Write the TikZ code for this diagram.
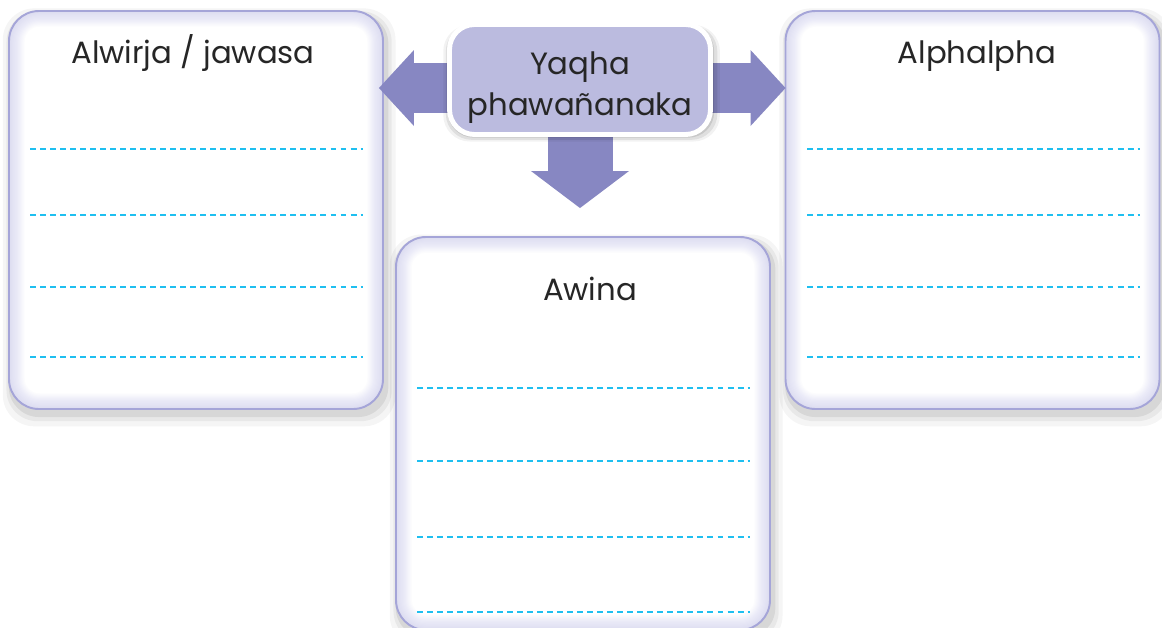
\documentclass[tikz,border=0pt]{standalone}
\usepackage{fontspec}
\setmainfont{Poppins}
\usetikzlibrary{positioning,calc,shadows,arrows.meta}
\pgfdeclarelayer{panels}
\pgfdeclarelayer{flows}
\pgfsetlayers{panels,flows,main}
\definecolor{panelline}{HTML}{A5A5D8}
\definecolor{panelglow}{HTML}{B4B4E2}
\definecolor{hubfill}{HTML}{BBBBDF}
\definecolor{flowfill}{HTML}{8787C2}
\definecolor{writeline}{HTML}{1FBFF0}
\tikzset{
  softshadow/.style={
    general shadow={fill=black, opacity=0.04, shadow xshift=0.6mm, shadow yshift=-1.4mm, shadow scale=1.05},
    general shadow={fill=black, opacity=0.05, shadow xshift=0.6mm, shadow yshift=-1.2mm, shadow scale=1.03},
    general shadow={fill=black, opacity=0.07, shadow xshift=0.5mm, shadow yshift=-1.0mm, shadow scale=1.015}},
  panel/.style={draw=panelline, line width=1.1pt, fill=white, rounded corners=6mm,
    minimum width=74.8mm, minimum height=79.6mm, inner sep=0pt, softshadow,
    path picture={
      \foreach \i in {1,...,14}
        \draw[panelglow, line width=\i*0.45mm, opacity=0.035, rounded corners=6mm]
          (path picture bounding box.south west) rectangle (path picture bounding box.north east);
    }},
  title/.style={anchor=base, inner sep=0pt, text=black!85, font=\fontsize{17.5}{21}\selectfont},
  hub/.style={draw=white, line width=2.8pt, fill=hubfill, rounded corners=5mm,
    minimum width=52.2mm, minimum height=22mm,
    general shadow={fill=black, opacity=0.05, shadow xshift=0.3mm, shadow yshift=-0.7mm, shadow scale=1.06},
    general shadow={fill=black, opacity=0.08, shadow xshift=0.3mm, shadow yshift=-0.6mm, shadow scale=1.04},
    general shadow={fill=black, opacity=0.10, shadow xshift=0.2mm, shadow yshift=-0.4mm, shadow scale=1.02}},
  hubtext/.style={align=center, inner sep=0pt, text=black!85,
    font=\fontsize{17.5}{23.3}\selectfont},
  flow/.style={draw=flowfill, line width=10mm,
    -{Triangle[width=15.2mm, length=7mm, line width=0pt]}},
  wline/.style={draw=writeline, line width=1.1pt, dash pattern=on 3.4pt off 2.3pt}
}
\begin{document}
\begin{tikzpicture}[x=0.2mm, y=-0.2mm]
  \useasboundingbox (0,0) rectangle (1162,627);
  \begin{pgfonlayer}{panels}
    \fill[white] (0,0) rectangle (1162,627);
    \node[panel] (alwirja) at (196,210) {};
    \node[panel] (alphalpha) at (972.5,210) {};
    \node[panel, minimum height=78.6mm] (awina) at (583,433.5) {};
    \node[title] (alwirjaT) at (193,63) {Alwirja / jawasa};
    \node[title] (alphalphaT) at (977,63) {Alphalpha};
    \node[title] (awinaT) at (590,300) {Awina};
    % writing lines
    \foreach \y in {149,215,287,357} {
      \draw[wline] (30,\y) -- (363,\y);
      \draw[wline] (807,\y) -- (1140,\y);
    }
    \foreach \y in {388,461,537,612}
      \draw[wline] (417,\y) -- (750,\y);
  \end{pgfonlayer}
  \node[hub] (yaqha) at (580,79.5) {};
  \node[hubtext] (yaqhaT) at ($(yaqha)+(0,8)$) {Yaqha\\phawañanaka};
  \begin{pgfonlayer}{flows}
    \draw[flow] ($(yaqha.west)+(10,8.5)$) -- ($(yaqha.west -| alwirja.east)+(-5,8.5)$);
    \draw[flow] ($(yaqha.east)+(-10,8.5)$) -- ($(yaqha.east -| alphalpha.west)+(1,8.5)$);
    \draw[flow, line width=13mm, -{Triangle[width=19.6mm, length=7.4mm, line width=0pt]}]
      ($(yaqha.south)+(0,-10)$) -- ($(awina.north -| yaqha.south)+(0,-28)$);
  \end{pgfonlayer}
\end{tikzpicture}
\end{document}
